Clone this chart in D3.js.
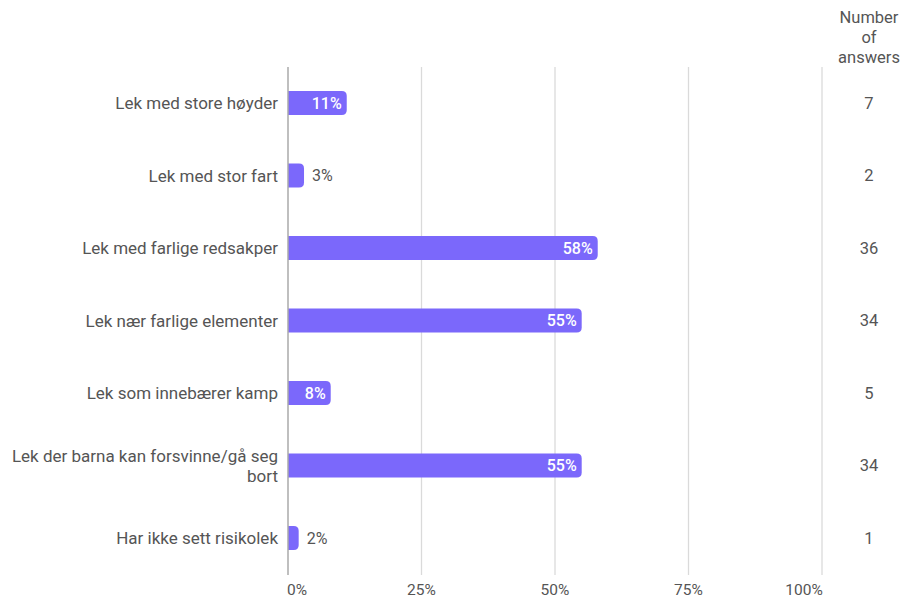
<!DOCTYPE html>
<html>
<head>
<meta charset="utf-8">
<script src="https://cdn.jsdelivr.net/npm/d3@7/dist/d3.min.js"></script>
<style>
  body { margin: 0; background: #fff; }
  svg { display: block; font-family: Roboto, "Noto Sans", sans-serif; }
</style>
</head>
<body>
<div id="chart"></div>
<script>
// Survey answers: share of respondents per type of risky play.
const categories = [
  ['Lek med store høyder'],
  ['Lek med stor fart'],
  ['Lek med farlige redsakper'],
  ['Lek nær farlige elementer'],
  ['Lek som innebærer kamp'],
  ['Lek der barna kan forsvinne/gå seg', 'bort'],
  ['Har ikke sett risikolek'],
];
const percents = [11, 3, 58, 55, 8, 55, 2];
const answers = [7, 2, 36, 34, 5, 34, 1];
const ticks = [0, 25, 50, 75, 100];
const countHeader = ['Number', 'of', 'answers'];

const W = 904, H = 598;
const plot = { left: 288, right: 822, top: 67, bottom: 575 };
const BAR_COLOR = '#7b68fb';
const TEXT = '#555';

const svg = d3.select('#chart').append('svg')
  .attr('width', W).attr('height', H);

const x = d3.scaleLinear().domain([0, 100]).range([plot.left, plot.right]);
const y = d3.scaleBand().domain(d3.range(categories.length))
  .range([66.75, 574.25]).paddingInner(0.67).paddingOuter(0.335);

// grid
svg.append('g').selectAll('line').data(ticks.slice(1)).enter().append('line')
  .attr('x1', (d) => x(d)).attr('x2', (d) => x(d))
  .attr('y1', plot.top).attr('y2', plot.bottom)
  .attr('stroke', '#dadada').attr('stroke-width', 1.3);

svg.append('g').selectAll('text').data(ticks).enter().append('text')
  .attr('x', (d) => x(d) + (d === 100 ? -18 : d === 0 ? 9 : 0))
  .attr('y', 595)
  .attr('text-anchor', 'middle')
  .attr('fill', TEXT).attr('font-size', 15.5)
  .text((d) => d + '%');

// bars: flat on the left, rounded on the right
const r = 5, bh = y.bandwidth();
function barPath(w) {
  const rr = Math.min(r, w / 2);
  return `M0,0H${w - rr}Q${w},0 ${w},${rr}V${bh - rr}Q${w},${bh} ${w - rr},${bh}H0Z`;
}
const bars = svg.append('g').selectAll('g').data(percents).enter().append('g')
  .attr('transform', (d, i) => `translate(${plot.left},${y(i)})`);
bars.append('path')
  .attr('d', (d) => barPath(x(d) - plot.left))
  .attr('fill', BAR_COLOR);
bars.append('text')
  .attr('x', (d) => (d >= 6 ? x(d) - plot.left - 5 : x(d) - plot.left + 8))
  .attr('y', bh / 2).attr('dy', '0.36em')
  .attr('text-anchor', (d) => (d >= 6 ? 'end' : 'start'))
  .attr('fill', (d) => (d >= 6 ? '#fff' : TEXT))
  .attr('font-weight', (d) => (d >= 6 ? 500 : 400))
  .attr('font-size', 16)
  .text((d) => d + '%');

// zero axis line
svg.append('line')
  .attr('x1', plot.left).attr('x2', plot.left)
  .attr('y1', plot.top).attr('y2', plot.bottom)
  .attr('stroke', '#aaa').attr('stroke-width', 1.5);

// category labels
const labels = svg.append('g').selectAll('text').data(categories).enter().append('text')
  .attr('text-anchor', 'end').attr('fill', TEXT).attr('font-size', 17);
labels.each(function (lines, i) {
  const cy = y(i) + bh / 2;
  const t0 = cy - (lines.length - 1) * 10;
  d3.select(this).selectAll('tspan').data(lines).enter().append('tspan')
    .attr('x', 278).attr('y', (l, k) => t0 + k * 20).attr('dy', '0.36em')
    .text((l) => l);
});

// count column
svg.append('g').selectAll('text').data(answers).enter().append('text')
  .attr('x', 869).attr('y', (d, i) => y(i) + bh / 2).attr('dy', '0.36em')
  .attr('text-anchor', 'middle').attr('fill', TEXT).attr('font-size', 16.5)
  .text((d) => d);

svg.append('text').attr('text-anchor', 'middle').attr('fill', TEXT).attr('font-size', 16.5)
  .selectAll('tspan').data(countHeader).enter().append('tspan')
  .attr('x', 869).attr('y', (d, i) => 23 + i * 20).text((d) => d);
</script>
</body>
</html>
